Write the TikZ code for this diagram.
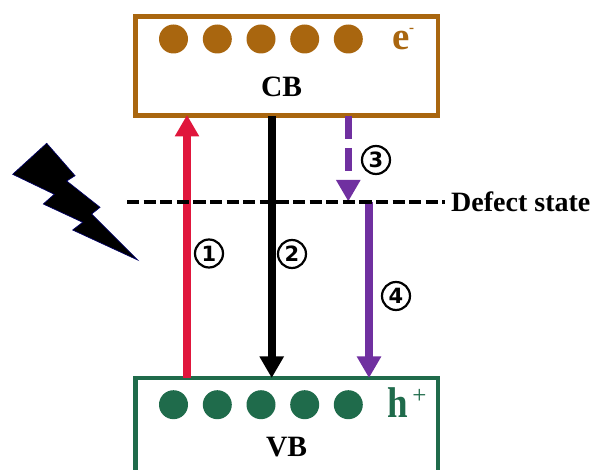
\documentclass[tikz,border=0pt]{standalone}
\usepackage{fontspec}
\setmainfont{Liberation Serif}
\newfontfamily\digitfont{DejaVu Sans}
\usetikzlibrary{arrows.meta}
\definecolor{cbbrown}{HTML}{A9660F}
\definecolor{vbgreen}{HTML}{1F6B4B}
\definecolor{redarrow}{HTML}{E0163C}
\definecolor{purplearrow}{HTML}{7030A0}
\tikzset{
  x=1pt,y=-1pt,
  band/.style={draw=#1,line width=4.8pt,fill=white,rectangle,inner sep=0pt,outer sep=0pt,minimum width=302.5pt},
  carrier/.style={circle,fill=#1,inner sep=0pt,minimum size=29pt},
  lab/.style={font=\fontsize{29.5}{29.5}\selectfont\bfseries,inner sep=0pt,text=#1},
  lab/.default=black,
  num/.style={circle,draw=black,line width=2.2pt,inner sep=0pt,minimum size=28pt,font=\fontsize{21}{21}\selectfont\digitfont\bfseries},
  band arrow/.style={draw=#1,line width=7.6pt,-{Triangle[length=21.5pt,width=23pt,fill=#1]},shorten >=0pt},
}
\begin{document}
\begin{tikzpicture}
\useasboundingbox (0,0) rectangle (592,470);
\clip (0,0) rectangle (592,470);
\node[band=cbbrown,minimum height=99.5pt,anchor=north west] (cb) at (135.5,16.4) {};
\node[band=vbgreen,minimum height=110pt,anchor=north west] (vb) at (135.5,378) {};
% carriers
\foreach \i/\cx in {1/173.5,2/217.3,3/261,4/304.7,5/348.3}{
  \node[carrier=cbbrown] (e\i) at (\cx,39) {};
  \node[carrier=vbgreen] (h\i) at (\cx,404.7) {};
}
\node[lab=cbbrown,font=\fontsize{39}{39}\selectfont\bfseries,anchor=base west] (el) at (392,49.5) {e};
\node[anchor=center,font=\fontsize{15}{15}\selectfont\bfseries,text=cbbrown,inner sep=0pt] (em) at (411.5,30) {-};
\node[lab=vbgreen,font=\fontsize{43}{43}\selectfont\bfseries,xscale=0.86,anchor=base west] (hl) at (387.5,417.5) {h};
\node[anchor=center,font=\fontsize{25}{25}\selectfont,text=vbgreen,inner sep=0pt] (hp) at (419.5,396) {+};
\node[lab] (cbl) at (281.5,87) {CB};
\node[lab] (vbl) at (286.5,447) {VB};
% connector ends
\coordinate (r) at (187,0);
\coordinate (b) at (271.7,0);
\coordinate (p) at (348.3,0);
\coordinate (q) at (369,0);
\coordinate (dl) at (127,202);
\coordinate (dr) at (445,202);
\coordinate (d3) at (348.3,201.5);
\coordinate (d4) at (369,202);
% arrows
\draw[band arrow=redarrow] (vb.north -| r) -- ([yshift=1pt]cb.south -| r);
\draw[band arrow=black] (cb.south -| b) -- (vb.north -| b);
\draw[band arrow=purplearrow,dash pattern=on 23pt off 9pt on 23pt off 20pt] (cb.south -| p) -- (d3);
\draw[band arrow=purplearrow] (d4) -- (vb.north -| q);
% defect level
\draw[black,line width=3.6pt,dash pattern=on 12.2pt off 4.4pt] (dl) -- (dr);
\node[lab,font=\fontsize{28}{28}\selectfont\bfseries,anchor=west] (ds) at (451,202) {Defect state};
% labels
\node[num] (n1) at (209,253.5) {1};
\node[num] (n2) at (292,254) {2};
\node[num] (n3) at (376,160) {3};
\node[num] (n4) at (396,296) {4};
% lightning
\filldraw[fill=black,draw=black!60!blue,line width=0.7pt,line join=miter]
  (46.7,143.3) -- (75,175.7) -- (66.7,181) -- (100,207.3) -- (91.7,214) -- (137.7,260)
  -- (72.7,230) -- (82.7,222.3) -- (43.3,204) -- (54.3,194.3) -- (12.7,174.3) -- cycle;
\end{tikzpicture}
\end{document}
